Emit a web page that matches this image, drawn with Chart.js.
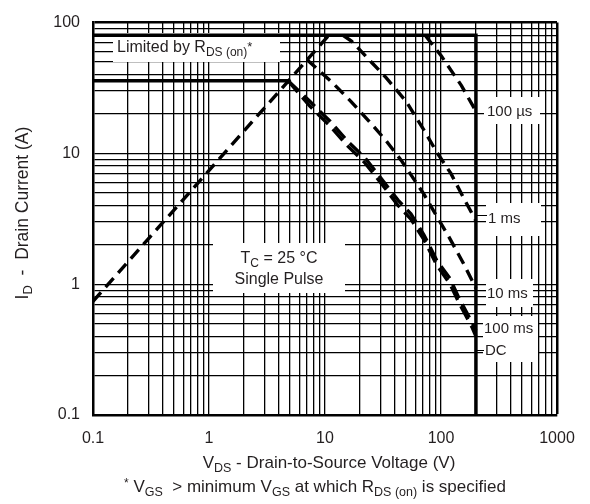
<!DOCTYPE html>
<html lang="en">
<head>
  <meta charset="UTF-8">
  <title>Safe Operating Area</title>
  <style>
    body { margin: 0; background: #ffffff; }
    canvas { display: block; }
  </style>
  <script src="https://cdn.jsdelivr.net/npm/chart.js"></script>
</head>
<body>
  <canvas id="soaChart" width="590" height="504"></canvas>
  <script>
    // decades on the axes (grid gets 1..9 inside each decade)
    var xMajor = [0.1, 1, 10, 100, 1000];
    var yMajor = [0.1, 1, 10, 100];

    // solid limits: I_D max / V_DS max, and continuous current
    var vLimit = [0.1, 200, 200];
    var iLimit = [80, 80, 0.1];
    var vCont = [0.1, 4.8];
    var iCont = [36, 36];

    // R_DS(on) limit line
    var vRds = [0.1, 10.8];
    var iRds = [0.74, 80];

    // pulse curves, V_DS (V) vs I_D (A)
    var v100us = [73, 100, 150, 200];
    var i100us = [80, 56, 33, 21];
    var v1ms = [14.3, 17, 23.5, 33.6, 50, 70, 92, 122, 152, 200];
    var i1ms = [80, 72, 53, 38, 25, 15.5, 10.2, 7, 4.8, 3.05];
    var v10ms = [7, 11.5, 16.7, 24, 33.6, 46, 71, 92, 117, 155, 200];
    var i10ms = [52, 35, 25, 17.6, 12.5, 8.7, 4.9, 3.3, 2.3, 1.46, 0.93];
    var v100ms = [4.8, 7.4, 11, 15.5, 22, 31, 42.6, 55, 71, 92, 120, 143, 185, 200];
    var i100ms = [36, 25, 17.7, 12.5, 9.3, 6.3, 4.4, 3.45, 2.4, 1.52, 1.1, 0.78, 0.51, 0.44];
    var vDC = [4.8, 7.4, 11, 15.5, 22, 31, 42.6, 55, 71, 92, 120, 143, 185, 200];
    var iDC = [36, 23, 16.3, 11.5, 8.5, 5.8, 4.0, 3.15, 2.2, 1.4, 1.0, 0.72, 0.47, 0.40];

    var FONT = '"Liberation Sans", Arial, Helvetica, sans-serif';
    var INK = '#231f20';

    function logGrid(major) {
      var t = [];
      for (var k = 0; k < major.length - 1; k++) {
        for (var m = 1; m < 10; m++) t.push(+(major[k] * m).toPrecision(3));
      }
      t.push(major[major.length - 1]);
      return t;
    }

    function pts(v, i) {
      return v.map(function (x, k) { return { x: x, y: i[k] }; });
    }

    function line(v, i, width, dash) {
      return {
        data: pts(v, i),
        showLine: true,
        borderColor: '#000',
        borderWidth: width,
        borderDash: dash,
        borderCapStyle: 'butt',
        pointRadius: 0,
        fill: false,
        tension: 0
      };
    }

    // text made of pieces: [text, size, dy]
    function rich(ctx, segs, x, y, align) {
      var w = 0;
      segs.forEach(function (s) {
        ctx.font = s[1] + 'px ' + FONT;
        w += ctx.measureText(s[0]).width;
      });
      var cx = align === 'center' ? x - w / 2 : x;
      ctx.textAlign = 'left';
      ctx.textBaseline = 'alphabetic';
      segs.forEach(function (s) {
        ctx.font = s[1] + 'px ' + FONT;
        ctx.fillText(s[0], cx, y + (s[2] || 0));
        cx += ctx.measureText(s[0]).width;
      });
    }

    // white label boxes over the grid: x, y, w, h
    var boxes = [
      [113, 33, 167, 29],
      [213, 243, 132, 50],
      [484, 97, 56, 27],
      [486, 203, 55, 33],
      [486, 279, 47, 28],
      [483, 316, 55, 46]
    ];
    var notes = [
      [[['Limited by R', 16], ['DS (on)', 12, 4], ['*', 13, -1]], 117, 52, 'left'],
      [[['T', 16], ['C', 12, 4], [' = 25 \u00b0C', 16]], 279, 263, 'center'],
      [[['Single Pulse', 16]], 279, 284, 'center'],
      [[['100 \u00b5s', 15]], 487, 116, 'left'],
      [[['1 ms', 15]], 488, 223, 'left'],
      [[['10 ms', 15]], 487, 298, 'left'],
      [[['100 ms', 15]], 484, 333, 'left'],
      [[['DC', 15]], 485, 355, 'left']
    ];

    var labelPlugin = {
      id: 'soaLabels',
      beforeDatasetsDraw: function (chart) {
        var ctx = chart.ctx;
        var x200 = chart.scales.x.getPixelForValue(200);
        ctx.save();
        ctx.fillStyle = '#fff';
        boxes.forEach(function (b) { ctx.fillRect(b[0], b[1], b[2], b[3]); });
        ctx.fillStyle = INK;
        notes.forEach(function (n) { rich(ctx, n[0], n[1], n[2], n[3]); });
        // leader lines
        ctx.strokeStyle = '#000';
        ctx.lineWidth = 1.2;
        ctx.beginPath();
        ctx.moveTo(x200, 215.5); ctx.lineTo(487, 215.5);
        ctx.moveTo(x200, 350.5); ctx.lineTo(484, 350.5);
        ctx.stroke();
        ctx.restore();
      },
      afterDraw: function (chart) {
        var ctx = chart.ctx;
        ctx.save();
        ctx.fillStyle = INK;
        rich(ctx, [['V', 17], ['DS', 12.5, 4], [' - Drain-to-Source Voltage (V)', 17]], 329, 468, 'center');
        rich(ctx, [['*', 12, -5], [' V', 17], ['GS', 12.5, 4], ['  > minimum V', 17], ['GS', 12.5, 4],
                   [' at which R', 17], ['DS (on)', 12.5, 4], [' is specified', 17]], 315, 492, 'center');
        ctx.translate(28, 213);
        ctx.rotate(-Math.PI / 2);
        rich(ctx, [['I', 17.5], ['D', 13, 4], ['  -  Drain Current (A)', 17.5]], 0, 0, 'center');
        ctx.restore();
      }
    };

    function edgeWidth(last) {
      return function (c) { return c.tick && c.tick.value === last ? 2.5 : 1.3; };
    }

    var dashThin = [12, 7];
    var dashThick = [15, 7];

    new Chart(document.getElementById('soaChart'), {
      type: 'scatter',
      data: {
        datasets: [
          line(vLimit, iLimit, 3.5, []),
          line(vCont, iCont, 3.5, []),
          line(vRds, iRds, 3.4, dashThin),
          line(v100us, i100us, 3.4, dashThin),
          line(v1ms, i1ms, 3.4, dashThin),
          line(v10ms, i10ms, 3.4, dashThin),
          line(v100ms, i100ms, 3.4, dashThick),
          line(vDC, iDC, 3.4, dashThick)
        ]
      },
      options: {
        responsive: false,
        animation: false,
        layout: { padding: { top: 12, right: 33, left: 0, bottom: 0 } },
        plugins: { legend: { display: false }, tooltip: { enabled: false } },
        scales: {
          x: {
            type: 'logarithmic',
            min: 0.1,
            max: 1000,
            afterBuildTicks: function (s) { s.ticks = logGrid(xMajor).map(function (v) { return { value: v }; }); },
            afterFit: function (s) { s.height = 89; },
            grid: { color: '#000', lineWidth: edgeWidth(1000), drawTicks: false },
            border: { color: '#000', width: 2.5 },
            ticks: {
              autoSkip: false,
              maxRotation: 0,
              padding: 14,
              color: INK,
              font: { family: FONT, size: 16 },
              callback: function (v) { return xMajor.indexOf(v) >= 0 ? String(v) : ''; }
            }
          },
          y: {
            type: 'logarithmic',
            min: 0.1,
            max: 100,
            afterBuildTicks: function (s) { s.ticks = logGrid(yMajor).map(function (v) { return { value: v }; }); },
            afterFit: function (s) { s.width = 93; },
            grid: { color: '#000', lineWidth: edgeWidth(100), drawTicks: false },
            border: { color: '#000', width: 2.5 },
            ticks: {
              autoSkip: false,
              padding: 13,
              color: INK,
              font: { family: FONT, size: 16 },
              callback: function (v) { return yMajor.indexOf(v) >= 0 ? String(v) : ''; }
            }
          }
        }
      },
      plugins: [labelPlugin]
    });
  </script>
</body>
</html>
